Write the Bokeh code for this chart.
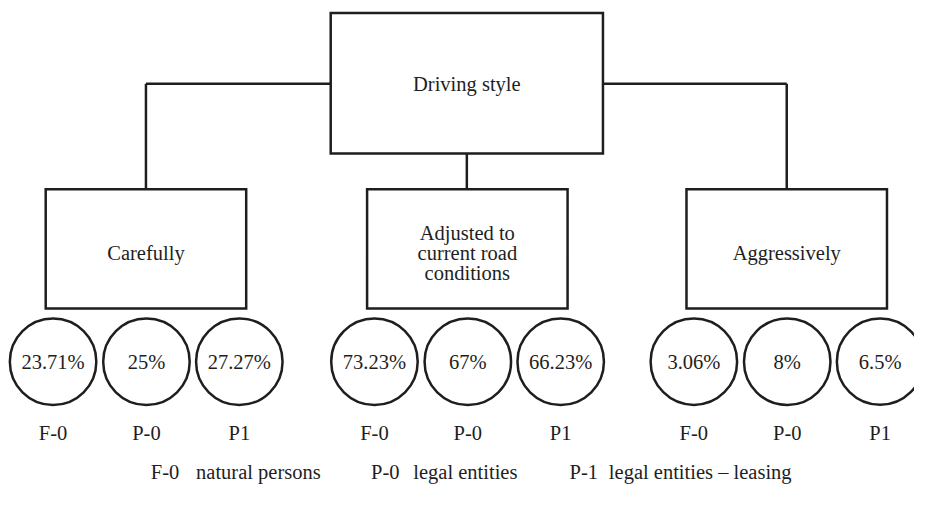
from bokeh.plotting import figure
from bokeh.models import Range1d, ColumnDataSource
from bokeh.core.properties import value
from bokeh.embed import file_html
from bokeh.resources import INLINE

# ---- data ----
root_label = "Driving style"
categories = ["Carefully", "Adjusted to\ncurrent road\nconditions", "Aggressively"]
groups = ["F-0", "P-0", "P1"]
carefully = [23.71, 25, 27.27]
adjusted = [73.23, 67, 66.23]
aggressively = [3.06, 8, 6.5]
legend_codes = ["F-0", "P-0", "P-1"]
legend_names = ["natural persons", "legal entities", "legal entities \u2013 leasing"]

series = [carefully, adjusted, aggressively]

# ---- layout (reference pixel space) ----
W, H = 914, 489
FONT = "'Liberation Serif', 'Times New Roman', Times, serif"
FS = "20.5px"
INK = "#1e1e1e"
LW = 2.5

root_box = dict(left=336, right=613, top=13, bottom=158)
root_cx = 474.5
branch_y = 86
child_cx = [148, 475, 800]
child_half_w = 102
child_top, child_bottom = 195, 318
circle_offsets = [-94.5, 0.5, 95]
circle_y = 373
circle_r = 44
label_y = 447
legend_y = 487
legend_code_x = [153, 377, 579]
legend_name_x = [199, 420, 619]
line_gap = 20.5

p = figure(width=W, height=H, output_backend="svg", toolbar_location=None,
           x_range=Range1d(0, 930), y_range=Range1d(505, 0),
           min_border=0, min_border_left=0, min_border_right=0,
           min_border_top=0, min_border_bottom=0)
p.axis.visible = False
p.xgrid.visible = False
p.ygrid.visible = False
p.outline_line_color = None
p.background_fill_color = "white"
p.border_fill_color = "white"

# connectors
xs0 = [child_cx[0], child_cx[0], root_box["right"], child_cx[2], root_cx]
ys0 = [branch_y, branch_y, branch_y, branch_y, root_box["bottom"]]
xs1 = [root_box["left"], child_cx[0], child_cx[2], child_cx[2], root_cx]
ys1 = [branch_y, child_top, branch_y, child_top, child_top]
p.segment(x0=xs0, y0=ys0, x1=xs1, y1=ys1, line_color=INK, line_width=LW)

# boxes
lefts = [root_box["left"]] + [c - child_half_w for c in child_cx]
rights = [root_box["right"]] + [c + child_half_w for c in child_cx]
tops = [root_box["top"]] + [child_top] * 3
bottoms = [root_box["bottom"]] + [child_bottom] * 3
p.quad(left=lefts, right=rights, top=tops, bottom=bottoms,
       fill_color="white", line_color=INK, line_width=LW, line_join="miter")

# box texts
tx, ty, tt = [root_cx], [branch_y], [root_label]
box_mid = (child_top + child_bottom) / 2 + 4
for cx, cat in zip(child_cx, categories):
    lines = cat.split("\n")
    n = len(lines)
    for i, ln in enumerate(lines):
        tx.append(cx)
        ty.append(box_mid + (i - (n - 1) / 2) * line_gap)
        tt.append(ln)
p.text(x=tx, y=ty, text=tt, text_align="center", text_baseline="middle",
       text_font=value(FONT), text_font_size=FS, text_color=INK)

# circles with values + group labels
cx_all, val_txt, lab_txt = [], [], []
for cx, vals in zip(child_cx, series):
    for off, v, g in zip(circle_offsets, vals, groups):
        cx_all.append(cx + off)
        val_txt.append(f"{v:g}%")
        lab_txt.append(g)
src = ColumnDataSource(dict(x=cx_all, y=[circle_y] * len(cx_all), t=val_txt,
                            ly=[label_y] * len(cx_all), lt=lab_txt))
p.circle(x="x", y="y", radius=circle_r, source=src, fill_color="white",
         line_color=INK, line_width=LW)
p.text(x="x", y="y", text="t", source=src, text_align="center", text_baseline="middle",
       text_font=value(FONT), text_font_size=FS, text_color=INK)
p.text(x="x", y="ly", text="lt", source=src, text_align="center", text_baseline="middle",
       text_font=value(FONT), text_font_size=FS, text_color=INK)

# legend line
p.text(x=legend_code_x + legend_name_x, y=[legend_y] * 6,
       text=legend_codes + legend_names, text_align="left", text_baseline="middle",
       text_font=value(FONT), text_font_size=FS, text_color=INK)

open("out.html", "w").write(file_html(p, INLINE))
